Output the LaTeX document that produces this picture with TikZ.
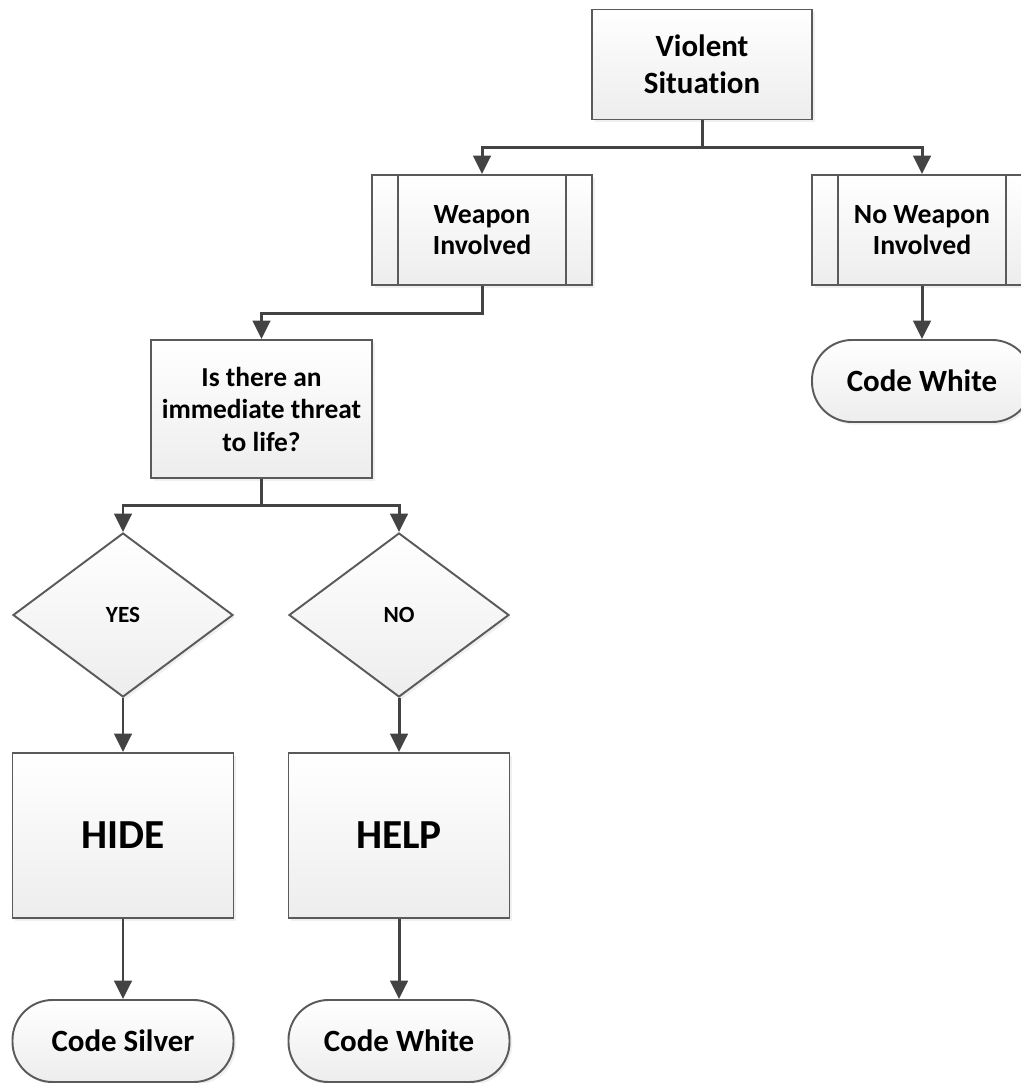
\documentclass[tikz,border=0pt]{standalone}
\usepackage{fontspec}
\setmainfont{Carlito}[Ligatures=NoCommon]
\usetikzlibrary{shapes.geometric,arrows.meta,shadows}

\definecolor{edgegray}{HTML}{5A5A5A}
\definecolor{linegray}{HTML}{434343}

\begin{document}
\begin{tikzpicture}[
    box/.style={draw=edgegray, line width=1.1pt, top color=white, bottom color=gray!14,
        drop shadow={opacity=0.12, shadow xshift=1.5pt, shadow yshift=-1.5pt},
        minimum width=4.4cm, minimum height=2.2cm, align=center, inner sep=2pt,
        font=\bfseries},
    term/.style={box, rounded corners=0.8cm, minimum height=1.64cm,
        font=\fontsize{17.6}{21}\selectfont\bfseries},
    choice/.style={box, diamond, minimum width=4.4cm, minimum height=3.28cm,
        font=\fontsize{13.2}{16}\selectfont\bfseries},
    conn/.style={draw=linegray, line width=1.7pt, -{Triangle[length=10.5pt,width=10pt]}},
    sideline/.style={draw=edgegray, line width=1.1pt}
]
    \useasboundingbox (0,0) rectangle (20.42,-21.66);

    % top of the chart
    \node[box, font=\fontsize{17.6}{21}\selectfont\bfseries] (violent) at (14.04,-1.29) {Violent\\Situation};
    \node[box, font=\fontsize{15.8}{18}\selectfont\bfseries] (weapon) at (9.64,-4.6) {Weapon\\Involved};
    \node[box, font=\fontsize{15.8}{18}\selectfont\bfseries] (noweapon) at (18.44,-4.6) {No Weapon\\Involved};
    \foreach \n in {weapon,noweapon}{
        \draw[sideline] ([xshift=0.54cm]\n.north west) -- ([xshift=0.54cm]\n.south west);
        \draw[sideline] ([xshift=-0.54cm]\n.north east) -- ([xshift=-0.54cm]\n.south east);
    }
    \node[term] (cwtop) at (18.44,-7.62) {Code White};

    % weapon branch
    \node[box, minimum width=4.42cm, minimum height=2.76cm,
        font=\fontsize{15.6}{18.5}\selectfont\bfseries] (question) at (5.23,-8.18)
        {Is there an\\immediate threat\\to life?};
    \node[choice] (yes) at (2.46,-12.3) {YES};
    \node[choice] (no) at (7.98,-12.3) {NO};
    \node[box, minimum width=4.42cm, minimum height=3.3cm,
        font=\fontsize{23.5}{28}\selectfont\bfseries] (hide) at (2.46,-16.71) {HIDE};
    \node[box, minimum width=4.42cm, minimum height=3.3cm,
        font=\fontsize{23.5}{28}\selectfont\bfseries] (help) at (7.98,-16.71) {HELP};
    \node[term, minimum width=4.42cm] (silver) at (2.46,-20.82) {Code Silver};
    \node[term, minimum width=4.42cm] (cwbot) at (7.98,-20.82) {Code White};

    % connectors
    \draw[conn] (violent.south) -- ++(0,-0.55) -| (weapon.north);
    \draw[conn] (violent.south) -- ++(0,-0.55) -| (noweapon.north);
    \draw[conn] (noweapon) -- (cwtop);
    \draw[conn] (weapon.south) -- ++(0,-0.56) -| (question.north);
    \draw[conn] (question.south) -- ++(0,-0.54) -| (yes.north);
    \draw[conn] (question.south) -- ++(0,-0.54) -| (no.north);
    \draw[conn] (yes) -- (hide);
    \draw[conn] (no) -- (help);
    \draw[conn] (hide) -- (silver);
    \draw[conn] (help) -- (cwbot);
\end{tikzpicture}
\end{document}
